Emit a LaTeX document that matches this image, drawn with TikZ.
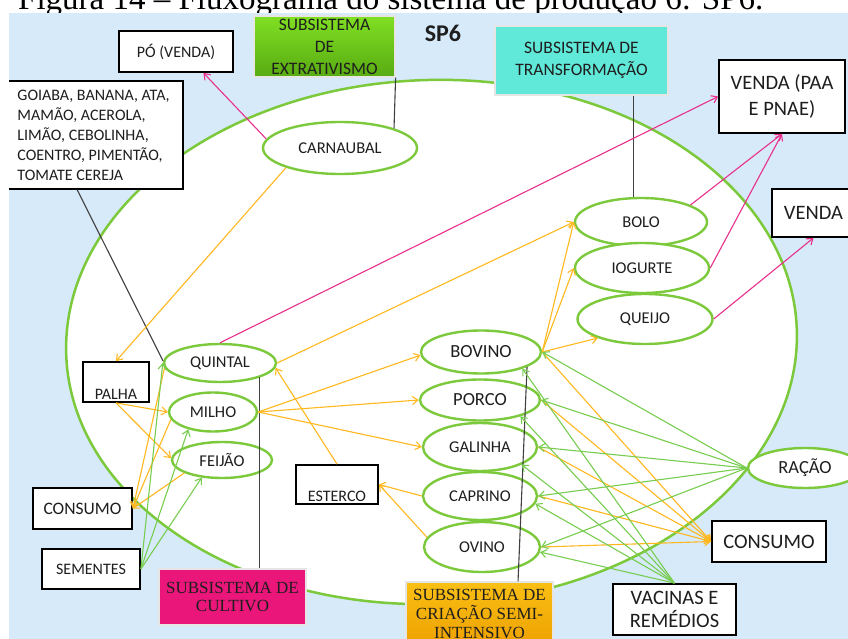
\documentclass[tikz,border=0pt]{standalone}
\usepackage{fontspec}
\setmainfont{Carlito}
\newfontfamily\serifcap{Liberation Serif}
\usetikzlibrary{shapes.geometric,arrows.meta,calc}

\definecolor{bgblue}{RGB}{214,234,250}
\definecolor{ringgreen}{RGB}{124,201,60}
\definecolor{flowgreen}{RGB}{120,205,80}
\definecolor{floworange}{RGB}{255,184,30}
\definecolor{flowpink}{RGB}{232,48,140}
\definecolor{textgray}{RGB}{30,30,30}
\definecolor{extrtop}{RGB}{128,224,34}
\definecolor{extrbot}{RGB}{88,170,18}
\definecolor{transfteal}{RGB}{96,232,216}
\definecolor{cultmag}{RGB}{234,22,122}
\definecolor{criatop}{RGB}{250,192,20}
\definecolor{criabot}{RGB}{238,160,0}

\begin{document}
\begin{tikzpicture}[x=1pt,y=-1pt,
  ell/.style={ellipse,draw=ringgreen,line width=2.4pt,fill=white,inner sep=0pt,
    text=textgray,font=\fontsize{16.5}{18}\selectfont},
  box/.style={rectangle,draw=black,line width=1.8pt,fill=white,inner sep=0pt,
    text=textgray,align=center},
  subsys/.style={rectangle,inner sep=0pt,align=center,text=textgray,
    draw=black!10,line width=1.2pt},
  flow/.style={line width=1.1pt,-{Straight Barb[length=5.5pt,width=8pt]}},
  og/.style={flow,draw=floworange},
  gr/.style={flow,draw=flowgreen},
  pk/.style={flow,draw=flowpink},
  tie/.style={draw=black!75,line width=1.1pt},
  ring/.style={draw=ringgreen,line width=2.5pt,fill=white}]

\useasboundingbox (0,0) rectangle (848,639);
\clip (0,0) rectangle (848,639);

% caption line of the page, mostly hidden under the figure
\node[anchor=base west,inner sep=0pt,font=\serifcap\fontsize{33}{33}\selectfont]
  (caption) at (18,9.5) {Figura 14 – Fluxograma do sistema de produção 6: SP6.};

\begin{scope}
\clip (9,13) rectangle (848,639);
\fill[bgblue] (9,13) rectangle (848,639);

% production system boundary
\draw[ring, rotate around={2:(431.5,342)}] (431.5,342) ellipse [x radius=365.5, y radius=262];

% outside boxes and subsystem labels
\node[box,minimum width=114pt,minimum height=41pt,font=\fontsize{16}{18}\selectfont]
  (po) at (176,51.5) {PÓ (VENDA)};
\node[box,align=left,minimum width=179pt,minimum height=108pt,font=\fontsize{16}{20}\selectfont]
  (goiaba) at (93.5,135) {GOIABA, BANANA, ATA,\\MAMÃO, ACEROLA,\\LIMÃO, CEBOLINHA,\\COENTRO, PIMENTÃO,\\TOMATE CEREJA};
\node[subsys,top color=extrtop,bottom color=extrbot,minimum width=141pt,minimum height=61pt,
  font=\fontsize{17.5}{22}\selectfont] (extr) at (324.5,46.5) {SUBSISTEMA\\DE\\EXTRATIVISMO};
\node[inner sep=0pt,text=textgray,font=\bfseries\fontsize{24}{24}\selectfont] (sp6) at (443,33) {SP6};
\node[subsys,fill=transfteal,minimum width=173pt,minimum height=69pt,
  font=\fontsize{17.5}{22}\selectfont] (transf) at (581.5,60.5) {SUBSISTEMA DE\\TRANSFORMAÇÃO};
\node[box,minimum width=126pt,minimum height=73pt,font=\fontsize{20.5}{26}\selectfont]
  (vpaa) at (782,96.5) {VENDA (PAA\\E PNAE)};
\node[box,minimum width=83pt,minimum height=48pt,font=\fontsize{20.5}{24}\selectfont]
  (venda) at (813.5,213) {VENDA};

% activities
\node[ell,minimum width=154pt,minimum height=52pt] (carn) at (340,148) {CARNAUBAL};
\node[ell,minimum width=112pt,minimum height=38pt] (quin) at (220,363) {QUINTAL};
\node[ell,minimum width=88pt,minimum height=39pt] (milho) at (213,412) {MILHO};
\node[ell,minimum width=100pt,minimum height=36pt] (feij) at (222,460) {FEIJÃO};
\node[ell,minimum width=120pt,minimum height=43pt,font=\fontsize{18.5}{20}\selectfont] (bov) at (481,352) {BOVINO};
\node[ell,minimum width=120pt,minimum height=41pt,font=\fontsize{18.5}{20}\selectfont] (porco) at (480,400) {PORCO};
\node[ell,minimum width=114pt,minimum height=48pt] (gal) at (480,447) {GALINHA};
\node[ell,minimum width=114pt,minimum height=48pt] (cap) at (480,496) {CAPRINO};
\node[ell,minimum width=116pt,minimum height=50pt] (ovi) at (482,547) {OVINO};
\node[ell,minimum width=132pt,minimum height=48pt] (bolo) at (641,222) {BOLO};
\node[ell,minimum width=134pt,minimum height=50pt] (iog) at (642,268) {IOGURTE};
\node[ell,minimum width=135pt,minimum height=50pt] (quei) at (645,319) {QUEIJO};
\node[ell,minimum width=114pt,minimum height=40pt,font=\fontsize{18.5}{20}\selectfont] (racao) at (805,468) {RAÇÃO};

% inputs and outputs
\node[box,text height=37pt,text depth=3pt,minimum width=66pt,font=\fontsize{16}{18}\selectfont]
  (palha) at (116,382) {PALHA};
\node[box,minimum width=99pt,minimum height=41pt,font=\fontsize{17.5}{20}\selectfont]
  (consL) at (82.5,508.5) {CONSUMO};
\node[box,minimum width=98pt,minimum height=40pt,font=\fontsize{16}{18}\selectfont]
  (sem) at (91,569) {SEMENTES};
\node[box,text height=36pt,text depth=3pt,minimum width=82pt,font=\fontsize{16}{18}\selectfont]
  (est) at (337,484.5) {ESTERCO};
\node[box,minimum width=114pt,minimum height=41pt,font=\fontsize{20.5}{24}\selectfont]
  (consR) at (769,541.5) {CONSUMO};
\node[box,minimum width=123pt,minimum height=51pt,font=\fontsize{20.5}{23}\selectfont]
  (vac) at (674.5,609.5) {VACINAS E\\REMÉDIOS};
\node[subsys,fill=cultmag,minimum width=147pt,minimum height=56pt,
  font=\serifcap\fontsize{17}{18}\selectfont] (cult) at (232.5,597) {SUBSISTEMA DE\\CULTIVO};
\node[subsys,top color=criatop,bottom color=criabot,minimum width=147pt,minimum height=64pt,
  font=\serifcap\fontsize{17}{19}\selectfont] (cria) at (479.5,614) {SUBSISTEMA DE\\CRIAÇÃO SEMI-\\INTENSIVO};

% subsystem ties
\draw[tie] (extr.south east) -- (carn.20);
\draw[tie] (bolo.106) -- (bolo.106 |- transf.south);
\draw[tie] ($(goiaba.south west)!0.41!(goiaba.south east)$) -- (quin.178);
\draw[tie] (quin.-20) -- (quin.-20 |- cult.north);
\draw[tie] ($(cria.north west)!0.76!(cria.north east)$) -- (bov.-18);

% sales
\draw[pk] (carn.173) -- (po.-38);
\draw[pk] (quin.north) -- (vpaa.west);
\draw[pk] (bolo.19.5) -- (vpaa.south);
\draw[pk] (iog.east) -- (vpaa.south);
\draw[pk] (quei.east) -- (venda.south);

% products and residues
\draw[og] (carn.-160) -- (palha.north);
\draw[og] (palha.south) -- (milho.west);
\draw[og] (palha.south) -- (feij.178);
\draw[og] (quin.185) -- (consL.east);
\draw[og] (milho.190) -- (consL.east);
\draw[og] (feij.199) -- (consL.east);
\draw[og] (milho.east) -- (bov.183);
\draw[og] (milho.east) -- (porco.west);
\draw[og] (milho.east) -- (gal.west);
\draw[og] (quin.east) -- (bolo.west);
\draw[og] (est.north) -- (quin.-5);
\draw[og] (cap.west) -- (est.east);
\draw[og] (ovi.170) -- (est.east);
\draw[og] (bov.east) -- (bolo.west);
\draw[og] (bov.east) -- (iog.west);
\draw[og] (bov.east) -- (quei.202);
\foreach \a in {bov,porco,gal,cap,ovi}
  \draw[og] (\a.east) -- (consR.west);

% inputs
\draw[gr] (sem.east) -- (quin.west);
\draw[gr] (sem.east) -- (milho.215);
\draw[gr] (sem.east) -- (feij.221);
\foreach \a in {bov,porco,gal,cap,ovi}
  \draw[gr] (racao.west) -- (\a.east);
\draw[gr] (vac.north) -- (bov.-22);
\draw[gr] (vac.north) -- (porco.-22);
\draw[gr] (vac.north) -- (gal.-23);
\draw[gr] (vac.north) -- (cap.-8);
\draw[gr] (vac.north) -- (ovi.-5);
\end{scope}
\end{tikzpicture}
\end{document}
